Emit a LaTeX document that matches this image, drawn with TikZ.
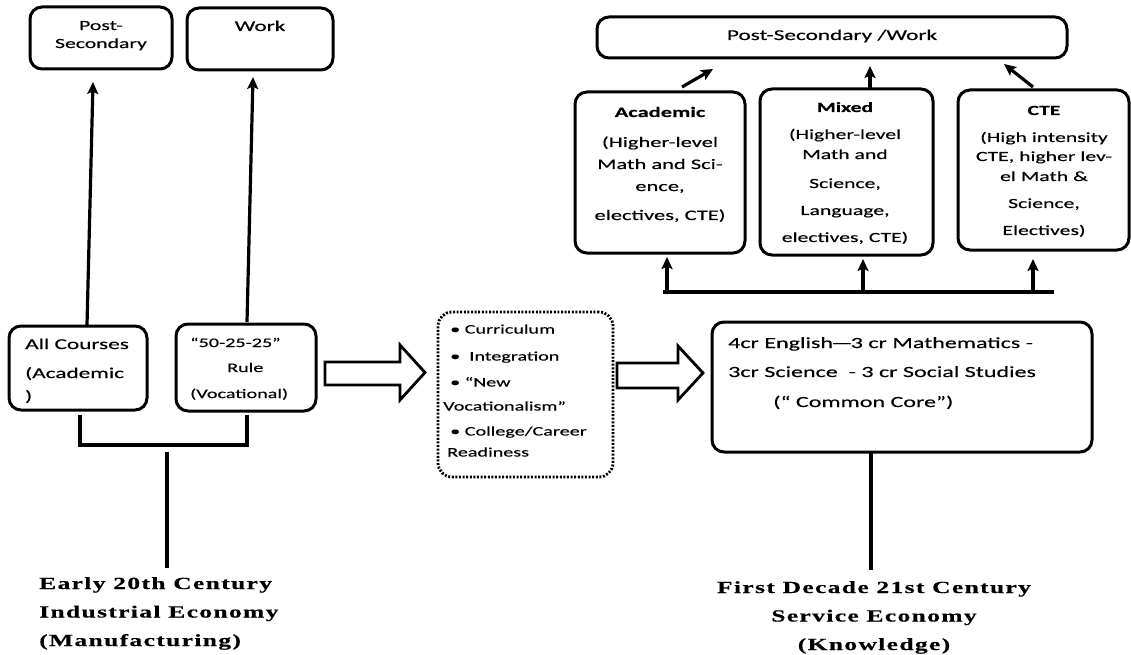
\documentclass[tikz,border=0pt]{standalone}
\usepackage{fontspec}
\setmainfont{Carlito}[FakeStretch=1.55,FakeBold=0.35]
\newfontfamily\tnr{Liberation Serif}[FakeStretch=1.5,LetterSpace=8,FakeBold=0.4]
\usetikzlibrary{arrows.meta}
\tikzset{
  box/.style={draw, line width=3pt, rounded corners=12pt, inner sep=0pt},
  dotbox/.style={draw, line width=2.8pt, dash pattern=on 2pt off 1.6pt, rounded corners=14pt, inner sep=0pt},
  txt/.style={inner sep=0pt},
  conn/.style={line width=3.2pt, line join=miter},
  arr/.style={conn, -{Stealth[length=12pt,width=11pt,inset=2.5pt]}},
  hollow/.style={line width=2.8pt, line join=miter},
  era/.style={inner sep=0pt, font=\tnr\bfseries\fontsize{17}{28.5}\selectfont}
}
\begin{document}
\begin{tikzpicture}[x=1pt,y=-1pt]
\useasboundingbox (0,0) rectangle (1131,655);

% ---------- left side ----------
\node[box, minimum width=142pt, minimum height=62pt] (ps) at (101,38) {};
\node[box, minimum width=146pt, minimum height=62pt] (work) at (260,39) {};
\node[txt, anchor=base, font=\fontsize{14}{18}\selectfont] (psT) at (101,30)
  {\begin{tabular}[t]{@{}c@{}}Post-\\Secondary\end{tabular}};
\node[txt, anchor=base, font=\fontsize{15}{22}\selectfont] (workT) at (260,31) {Work};

\node[box, minimum width=138pt, minimum height=84pt] (allc) at (78,368) {};
\node[box, minimum width=140pt, minimum height=87pt] (r50) at (246,367.5) {};
\node[txt, anchor=base west, font=\fontsize{15}{22}\selectfont] (allcT) at (25,349)
  {\begin{tabular}[t]{@{}l@{}}All Courses\\[7pt](Academic\\[1pt])\end{tabular}};
\node[txt, anchor=base west, font=\fontsize{13}{22}\selectfont] (r50T) at (190,347)
  {\begin{tabular}[t]{@{}l@{}}“50-25-25”\\[3pt]\hspace{37pt}Rule\\[4pt](Vocational)\end{tabular}};

\coordinate (a1s) at (87,325);  \coordinate (a1t) at (93,82);
\coordinate (a2s) at (247,322); \coordinate (a2t) at (253,77);
\draw[arr] (a1s) -- (a1t);
\draw[arr] (a2s) -- (a2t);

\coordinate (b1) at (80,415); \coordinate (b2) at (80,445);
\coordinate (b3) at (247,445); \coordinate (b4) at (247,415);
\draw[conn] (b1) -- (b2) -- (b3) -- (b4);
\coordinate (s1) at (167,452); \coordinate (s2) at (167,568);
\draw[conn] (s1) -- (s2);

\node[era, anchor=base west] (early) at (39,589)
  {\begin{tabular}[t]{@{}l@{}}Early 20th Century\\Industrial Economy\\(Manufacturing)\end{tabular}};

% ---------- middle ----------
\draw[hollow] (325,362) -- (400,362) -- (400,345) -- (425,372.5) -- (400,400) -- (400,385) -- (325,385) -- cycle;
\node[dotbox, minimum width=175pt, minimum height=165pt] (mid) at (525.5,394.5) {};
\node[txt, anchor=base west, font=\fontsize{13}{25}\selectfont] (midT) at (443,333.5)
  {\begin{tabular}[t]{@{}l@{}}\hspace{7pt}• Curriculum\\[2pt]
   \hspace{7pt}•\ \ Integration\\[1pt]
   \hspace{7pt}• “New\\[-1pt]
   Vocationalism”\\
   \hspace{7pt}• College/Career\\[-4pt]
   \hspace{4pt}Readiness\end{tabular}};
\draw[hollow] (617,363) -- (678,363) -- (678,346) -- (703,373) -- (678,400) -- (678,388) -- (617,388) -- cycle;

% ---------- right side ----------
\node[box, minimum width=380pt, minimum height=130pt] (core) at (902,387) {};
\node[txt, anchor=base west, font=\fontsize{15.5}{22}\selectfont] (coreT) at (728,348)
  {\begin{tabular}[t]{@{}l@{}}4cr English\kern-2pt—\kern-2pt3 cr Mathematics -\\[7pt]
   3cr Science \ - 3 cr Social Studies\\[8pt]
   \hspace{45pt}(“ Common Core”)\end{tabular}};
\coordinate (c1) at (871,452); \coordinate (c2) at (871,570);
\draw[conn] (c1) -- (c2);
\node[era, anchor=base] (first) at (874,593)
  {\begin{tabular}[t]{@{}c@{}}First Decade 21st Century\\Service Economy\\(Knowledge)\end{tabular}};

\node[box, minimum width=470pt, minimum height=41pt] (psw) at (832,37.5) {};
\node[txt, anchor=base, font=\fontsize{15}{22}\selectfont] (pswT) at (832,40) {Post-Secondary /Work};

\node[box, minimum width=170pt, minimum height=161pt] (acad) at (660,172.5) {};
\node[box, minimum width=173pt, minimum height=166pt] (mixed) at (846.5,172) {};
\node[box, minimum width=171pt, minimum height=160pt] (cte) at (1043.5,170) {};

\node[txt, anchor=base, font=\fontsize{14.5}{22}\selectfont] (acadT) at (660,117)
  {\begin{tabular}[t]{@{}c@{}}\textbf{Academic}\\[8pt](Higher-level\\Math and Sci-\\ence,\\[7pt]electives, CTE)\end{tabular}};
\node[txt, anchor=base, font=\fontsize{14}{20}\selectfont] (mixedT) at (845,112)
  {\begin{tabular}[t]{@{}c@{}}\textbf{Mixed}\\[7pt](Higher-level\\Math and\\[9pt]Science,\\[7pt]Language,\\[7pt]electives, CTE)\end{tabular}};
\node[txt, anchor=base, font=\fontsize{14}{20}\selectfont] (cteT) at (1044,115)
  {\begin{tabular}[t]{@{}c@{}}\textbf{CTE}\\[7pt](High intensity\\[-1pt]CTE, higher lev-\\el Math \&\\[7pt]Science,\\[7pt]Electives)\end{tabular}};

\coordinate (u1s) at (682,87);  \coordinate (u1t) at (713,69);
\coordinate (u2s) at (870,88);  \coordinate (u2t) at (870,66);
\coordinate (u3s) at (1033,87); \coordinate (u3t) at (1004,64);
\draw[arr] (u1s) -- (u1t);
\draw[arr] (u2s) -- (u2t);
\draw[arr] (u3s) -- (u3t);

\coordinate (h1) at (663,292); \coordinate (h2) at (1054,292);
\draw[conn] (h1) -- (h2);
\coordinate (d1) at (667,292);  \coordinate (d1t) at (667,257);
\coordinate (d2) at (863,292);  \coordinate (d2t) at (863,259);
\coordinate (d3) at (1033,292); \coordinate (d3t) at (1033,259);
\draw[arr] (d1) -- (d1t);
\draw[arr] (d2) -- (d2t);
\draw[arr] (d3) -- (d3t);
\end{tikzpicture}
\end{document}
